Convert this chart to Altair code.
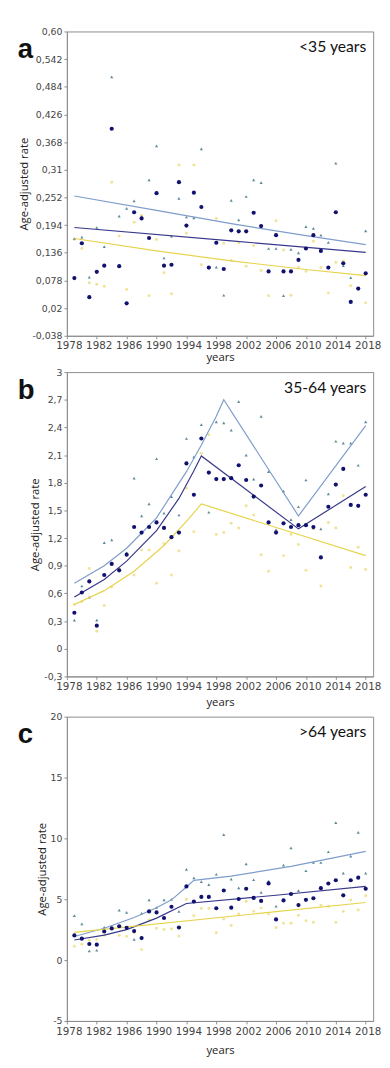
import altair as alt
import pandas as pd

YEARS = list(range(1979, 2019))
X_TICKS = list(range(1978, 2019, 4))

PANEL_LETTERS = ["a", "b", "c"]
PANEL_LABELS = ["<35 years", "35-64 years", ">64 years"]

# ---------- panel a (<35 years) ----------
A_TOTAL = [0.083, 0.156, 0.043, 0.096, 0.109, 0.396, 0.108, 0.030, 0.221, 0.208,
           0.167, 0.261, 0.109, 0.111, 0.284, 0.193, 0.262, 0.232, 0.105, 0.157,
           0.102, 0.183, 0.181, 0.181, 0.220, 0.192, 0.097, 0.173, 0.097, 0.097,
           0.121, 0.145, 0.173, 0.140, 0.105, 0.221, 0.114, 0.033, 0.061, 0.093]
A_MEN = [0.166, 0.169, 0.085, 0.189, 0.149, 0.505, 0.213, 0.229, 0.245, 0.212,
         0.289, 0.360, 0.125, 0.171, 0.250, 0.211, 0.209, 0.354, 0.106, 0.106,
         0.047, 0.246, 0.205, 0.254, 0.289, 0.283, 0.145, 0.145, 0.046, 0.143,
         0.136, 0.191, 0.187, 0.173, 0.158, 0.324, 0.109, 0.084, 0.062, 0.182]
A_WOMEN = [0.164, 0.145, 0.073, 0.070, 0.066, 0.284, 0.171, 0.059, 0.200, 0.214,
           0.046, 0.164, 0.094, 0.050, 0.320, 0.177, 0.320, 0.111, 0.104, 0.208,
           0.156, 0.120, 0.157, 0.108, 0.151, 0.099, 0.046, 0.203, 0.142, 0.047,
           0.105, 0.097, 0.160, 0.105, 0.052, 0.116, 0.119, 0.067, 0.060, 0.031]
A_MEN_LINE_X = [1979, 1990, 2000, 2010, 2018]
A_MEN_LINE = [0.255, 0.225, 0.197, 0.172, 0.153]
A_TOTAL_LINE_X = [1979, 2000, 2018]
A_TOTAL_LINE = [0.189, 0.161, 0.137]
A_WOMEN_LINE_X = [1979, 1990, 2000, 2010, 2018]
A_WOMEN_LINE = [0.166, 0.140, 0.119, 0.101, 0.088]
A_TICKS = [0.60, 0.542, 0.484, 0.426, 0.368, 0.31, 0.252, 0.194, 0.136, 0.078, 0.02, -0.038]
A_TICK_LABELS = ["0,60", "0,542", "0,484", "0,426", "0,368", "0,31", "0,252", "0,194",
                 "0,136", "0,078", "0,02", "-0,038"]

# ---------- panel b (35-64 years) ----------
B_TOTAL = [0.39, 0.61, 0.73, 0.25, 0.80, 0.92, 0.85, 1.02, 1.32, 1.26,
           1.32, 1.37, 1.31, 1.21, 1.26, 2.01, 1.67, 2.28, 1.91, 1.84,
           1.84, 1.85, 1.99, 1.83, 1.65, 1.77, 1.37, 1.26, 1.36, 1.32,
           1.34, 1.34, 1.32, 0.99, 1.54, 1.78, 1.95, 1.56, 1.55, 1.67]
B_MEN = [0.31, 0.68, 0.56, 0.31, 1.15, 1.18, 0.86, 1.04, 1.85, 1.44,
         1.57, 2.06, 1.47, 1.65, 1.45, 2.28, 2.08, 2.43, 1.48, 2.46,
         2.45, 2.37, 2.68, 2.10, 1.84, 2.52, 1.92, 1.29, 1.71, 1.40,
         1.54, 1.83, 1.31, 1.30, 1.68, 2.25, 2.23, 2.23, 1.99, 2.46]
B_WOMEN = [0.48, 0.51, 0.87, 0.19, 0.47, 0.67, 0.87, 1.03, 0.80, 1.07,
           1.07, 0.71, 1.14, 0.80, 1.06, 1.74, 1.27, 2.12, 2.32, 1.24,
           1.26, 1.36, 1.31, 1.55, 1.45, 1.02, 0.84, 1.27, 1.01, 1.24,
           1.13, 0.85, 1.30, 0.68, 1.37, 1.31, 1.66, 0.88, 1.10, 0.86]
B_MEN_LINE_X = [1979, 1983, 1986, 1990, 1994, 1996, 1998, 1999, 2009, 2018]
B_MEN_LINE = [0.71, 0.90, 1.09, 1.42, 1.92, 2.21, 2.52, 2.70, 1.44, 2.42]
B_TOTAL_LINE_X = [1979, 1983, 1986, 1990, 1993, 1995, 1996, 2009, 2018]
B_TOTAL_LINE = [0.56, 0.75, 0.95, 1.28, 1.63, 1.93, 2.09, 1.30, 1.76]
B_WOMEN_LINE_X = [1979, 1983, 1987, 1991, 1994, 1996, 2018]
B_WOMEN_LINE = [0.48, 0.63, 0.84, 1.12, 1.38, 1.57, 1.01]
B_TICKS = [3, 2.7, 2.4, 2.1, 1.8, 1.5, 1.2, 0.9, 0.6, 0.3, 0, -0.3]
B_TICK_LABELS = ["3", "2,7", "2,4", "2,1", "1,8", "1,5", "1,2", "0,9", "0,6", "0,3", "0", "-0,3"]

# ---------- panel c (>64 years) ----------
C_TOTAL = [2.03, 1.76, 1.32, 1.27, 2.35, 2.60, 2.78, 2.65, 2.38, 1.81,
           4.00, 3.92, 3.46, 4.38, 2.68, 6.05, 4.81, 5.19, 5.19, 4.26,
           5.72, 4.31, 5.02, 5.86, 5.11, 4.86, 6.30, 3.34, 4.90, 5.43,
           4.52, 4.95, 5.08, 5.91, 6.29, 6.56, 5.32, 6.56, 6.77, 5.86]
C_MEN = [3.65, 2.97, 0.76, 0.81, 2.70, 2.65, 4.11, 3.92, 1.70, 3.84,
         4.95, 4.32, 4.95, 5.00, 4.00, 7.46, 6.75, 6.45, 6.20, 7.05,
         10.30, 6.65, 5.94, 7.90, 6.60, 5.56, 6.50, 4.44, 7.80, 9.22,
         5.70, 7.34, 8.02, 8.02, 8.90, 11.29, 7.15, 8.54, 10.50, 7.15]
C_WOMEN = [1.14, 1.30, 1.62, 1.70, 2.03, 2.65, 2.03, 1.95, 2.24, 0.86,
           3.30, 2.62, 2.51, 2.57, 1.97, 5.00, 3.65, 4.24, 4.24, 2.24,
           3.38, 2.84, 3.78, 4.83, 4.00, 4.27, 3.78, 2.65, 3.03, 3.03,
           3.68, 3.24, 3.11, 4.51, 4.43, 3.10, 4.00, 4.94, 4.11, 5.28]
C_MEN_LINE_X = [1979, 1983, 1987, 1990, 1992, 1994, 1995, 2000, 2008, 2018]
C_MEN_LINE = [1.94, 2.62, 3.50, 4.30, 4.95, 6.00, 6.55, 6.90, 7.70, 8.93]
C_TOTAL_LINE_X = [1979, 1983, 1986, 1990, 1994, 2006, 2018]
C_TOTAL_LINE = [1.65, 2.05, 2.50, 3.45, 4.65, 5.33, 6.05]
C_WOMEN_LINE_X = [1979, 2018]
C_WOMEN_LINE = [2.28, 4.73]
C_TICKS = [20, 15, 10, 5, 0, -5]
C_TICK_LABELS = ["20", "15", "10", "5", "0", "-5"]

NAVY = "#11116f"
TRI = "#4d7d8e"
YEL_PT = "#eee08a"
MEN_LINE_C = "#7f9dcb"
TOT_LINE_C = "#38388c"
WOM_LINE_C = "#e7d34c"

PLOT_W = 312
PLOT_H = 310
X_LABEL_PAD = [2, 2, 3]
X_TITLE_PAD = [1, 5, 8]


def label_expr(ticks, labels):
    labs = ",".join("'" + s + "'" for s in labels)
    vals = ",".join(repr(float(t)) for t in ticks)
    return "[" + labs + "][indexof([" + vals + "], datum.value)]"


def panel(idx, total, men, women, men_lx, men_l, tot_lx, tot_l, wom_lx, wom_l,
          ticks, tick_labels):
    lo, hi = min(ticks), max(ticks)
    pts = pd.DataFrame({
        "year": YEARS * 3,
        "value": total + men + women,
        "series": ["total"] * 40 + ["men"] * 40 + ["women"] * 40,
    })
    lines = pd.DataFrame({
        "year": men_lx + tot_lx + wom_lx,
        "value": men_l + tot_l + wom_l,
        "series": ["men"] * len(men_lx) + ["total"] * len(tot_lx) + ["women"] * len(wom_lx),
    })
    X = alt.X("year:Q", scale=alt.Scale(domain=[1978, 2019], nice=False, zero=False),
              axis=alt.Axis(values=X_TICKS, format="d", title="years", grid=False,
                            labelFont="DejaVu Sans", labelFontSize=10.5, labelColor="#444",
                            labelPadding=X_LABEL_PAD[idx], labelOffset=2, tickSize=3,
                            labelFlush=False, titleFont="Open Sans", titleFontSize=11.5,
                            titleFontWeight="normal", titleColor="#222",
                            titlePadding=X_TITLE_PAD[idx], labelOverlap=False))
    Y = alt.Y("value:Q", scale=alt.Scale(domain=[lo, hi], nice=False, zero=False),
              axis=alt.Axis(values=ticks, labelExpr=label_expr(ticks, tick_labels),
                            title="Age-adjusted rate", grid=False,
                            labelFont="DejaVu Sans", labelFontSize=9.5, labelColor="#444",
                            labelPadding=2, tickSize=3, titleFont="Open Sans",
                            titleFontSize=11.5, titleFontWeight="normal", titleColor="#222",
                            titlePadding=3, labelOverlap=False))
    base = alt.Chart(pts)
    yel = base.transform_filter(alt.datum.series == "women").mark_point(
        shape="circle", filled=True, size=9, color=YEL_PT, opacity=0.9).encode(x=X, y=Y)
    tri = base.transform_filter(alt.datum.series == "men").mark_point(
        shape="triangle-up", filled=True, size=10, color=TRI, opacity=0.9).encode(x=X, y=Y)
    nav = base.transform_filter(alt.datum.series == "total").mark_circle(
        size=18, color=NAVY, opacity=1).encode(x=X, y=Y)
    ln = alt.Chart(lines).mark_line(strokeWidth=1.2).encode(
        x=X, y=Y, detail="series:N",
        color=alt.Color("series:N", legend=None,
                        scale=alt.Scale(domain=["men", "total", "women"],
                                        range=[MEN_LINE_C, TOT_LINE_C, WOM_LINE_C])))
    letter = alt.Chart(pd.DataFrame({"t": [PANEL_LETTERS[idx]]})).mark_text(
        align="left", baseline="alphabetic", fontSize=28, fontWeight="bold",
        font="Liberation Sans", color="#111").encode(
        text="t:N", x=alt.value(-50), y=alt.value(27))
    lab = alt.Chart(pd.DataFrame({"t": [PANEL_LABELS[idx]]})).mark_text(
        align="right", baseline="alphabetic", fontSize=16, font="Lato",
        color="#111").encode(text="t:N", x=alt.value(PLOT_W - 7), y=alt.value(21))
    return alt.layer(yel, tri, ln, nav, letter, lab).properties(width=PLOT_W, height=PLOT_H)


pa = panel(0, A_TOTAL, A_MEN, A_WOMEN, A_MEN_LINE_X, A_MEN_LINE, A_TOTAL_LINE_X,
           A_TOTAL_LINE, A_WOMEN_LINE_X, A_WOMEN_LINE, A_TICKS, A_TICK_LABELS)
pb = panel(1, B_TOTAL, B_MEN, B_WOMEN, B_MEN_LINE_X, B_MEN_LINE, B_TOTAL_LINE_X,
           B_TOTAL_LINE, B_WOMEN_LINE_X, B_WOMEN_LINE, B_TICKS, B_TICK_LABELS)
pc = panel(2, C_TOTAL, C_MEN, C_WOMEN, C_MEN_LINE_X, C_MEN_LINE, C_TOTAL_LINE_X,
           C_TOTAL_LINE, C_WOMEN_LINE_X, C_WOMEN_LINE, C_TICKS, C_TICK_LABELS)

chart = alt.vconcat(pa, pb, pc, spacing=2).properties(
    padding={"left": 9, "top": 8, "right": 0, "bottom": 0},
    background="white",
).configure_view(stroke="#8c8c8c", strokeWidth=1).configure_axis(
    domainColor="#8c8c8c", tickColor="#8c8c8c", domainWidth=1)

chart.save("out.html", embed_options={"renderer": "svg", "actions": False})
